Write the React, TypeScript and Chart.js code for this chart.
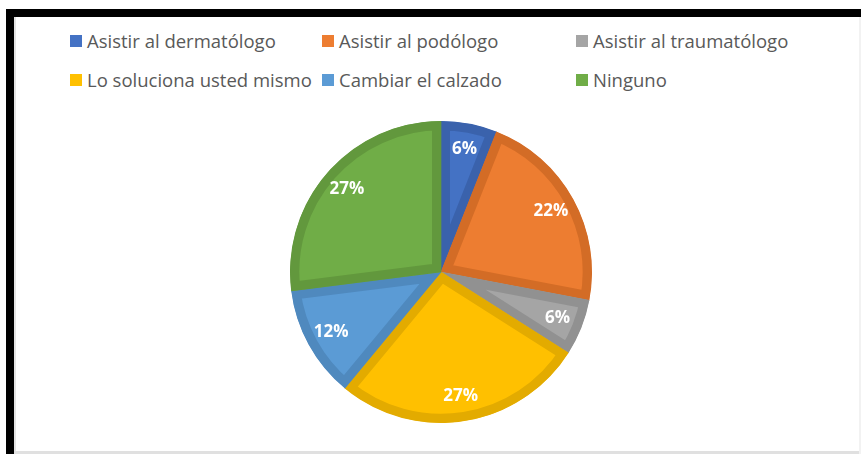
import React, { useEffect, useRef } from "react";
import { Chart, registerables } from "chart.js";

Chart.register(...registerables);

const categories = [
  "Asistir al dermatólogo",
  "Asistir al podólogo",
  "Asistir al traumatólogo",
  "Lo soluciona usted mismo",
  "Cambiar el calzado",
  "Ninguno",
];
const values = [6, 22, 6, 27, 12, 27];
const fillColors = ["#4472C4", "#ED7D31", "#A5A5A5", "#FFC000", "#5B9BD5", "#70AD47"];
const borderColors = ["#3A62AC", "#D36C26", "#919191", "#E3AB00", "#4F89BE", "#62983D"];

const legendCols = [70, 322, 576];
const legendRows = [40, 79];

const labelPlugin = {
  id: "pctLabels",
  afterDatasetsDraw(chart: any) {
    const ctx = chart.ctx;
    const meta = chart.getDatasetMeta(0);
    const data = chart.data.datasets[0].data as number[];
    const total = data.reduce((a, b) => a + b, 0);
    ctx.save();
    ctx.font = "bold 17px 'Open Sans'";
    ctx.fillStyle = "#FFFFFF";
    ctx.textAlign = "center";
    ctx.textBaseline = "middle";
    meta.data.forEach((el: any, i: number) => {
      const p = el.getProps(["x", "y", "startAngle", "endAngle", "outerRadius"], true);
      const mid = (p.startAngle + p.endAngle) / 2;
      const r = p.outerRadius * 0.83;
      const x = p.x + Math.cos(mid) * r;
      const y = p.y + Math.sin(mid) * r;
      ctx.fillText(Math.round((data[i] / total) * 100) + "%", x, y);
    });
    ctx.restore();
  },
};

export default function App() {
  const ref = useRef<HTMLCanvasElement>(null);
  useEffect(() => {
    if (!ref.current) return;
    const chart = new Chart(ref.current, {
      type: "pie",
      data: {
        labels: categories,
        datasets: [
          {
            data: values,
            backgroundColor: fillColors,
            borderColor: borderColors,
            borderWidth: 9,
            borderAlign: "inner",
          } as any,
        ],
      },
      options: {
        responsive: false,
        animation: false,
        layout: { padding: 9 },
        plugins: {
          legend: { display: false },
          tooltip: { enabled: false },
        },
      },
      plugins: [labelPlugin],
    });
    return () => chart.destroy();
  }, []);

  return (
    <div
      style={{
        position: "fixed",
        left: 0,
        top: 0,
        width: 861,
        height: 454,
        background: "#FFFFFF",
        overflow: "hidden",
        fontFamily: "'Open Sans', sans-serif",
      }}
    >
      {/* frame */}
      <div style={{ position: "absolute", left: 6, top: 9, width: 855, height: 8, background: "#000" }} />
      <div style={{ position: "absolute", left: 6, top: 9, width: 8, height: 445, background: "#000" }} />
      <div style={{ position: "absolute", left: 14, top: 17, width: 2, height: 437, background: "#E3E3E3" }} />
      <div style={{ position: "absolute", left: 14, top: 451, width: 847, height: 3, background: "#E0E0E0" }} />
      <div style={{ position: "absolute", left: 859, top: 17, width: 2, height: 437, background: "#F2F2F2" }} />

      {/* legend */}
      {categories.map((c, i) => (
        <div
          key={c}
          style={{
            position: "absolute",
            left: legendCols[i % 3],
            top: legendRows[Math.floor(i / 3)] - 13,
            height: 26,
            display: "flex",
            alignItems: "center",
            fontSize: 18.5,
            color: "#595959",
            whiteSpace: "nowrap",
          }}
        >
          <span
            style={{
              display: "inline-block",
              width: 12,
              height: 12,
              background: fillColors[i],
              marginRight: 5,
              marginTop: 1,
            }}
          />
          <span>{c}</span>
        </div>
      ))}

      <canvas
        ref={ref}
        width={320}
        height={320}
        style={{ position: "absolute", left: 281, top: 112, width: 320, height: 320 }}
      />
    </div>
  );
}
